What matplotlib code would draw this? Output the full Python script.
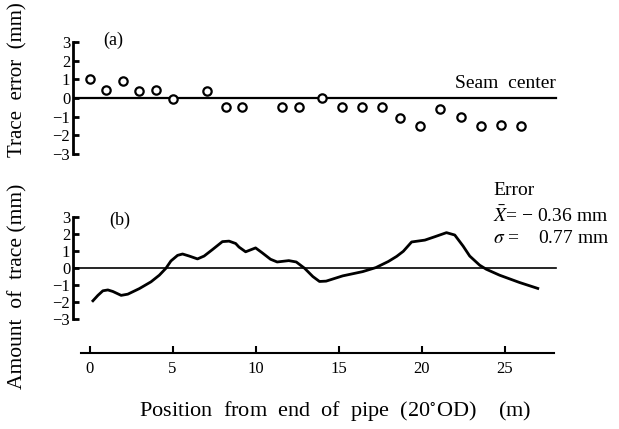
import matplotlib
matplotlib.use('Agg')
import matplotlib.pyplot as plt

plt.rcParams['font.family'] = ['Liberation Serif', 'DejaVu Serif']
plt.rcParams['mathtext.fontset'] = 'stix'
plt.rcParams['axes.unicode_minus'] = True

# (a) trace error points
pos_a = [0, 1.0, 2.0, 3.0, 4.0, 5.0, 7.1, 8.2, 9.2, 11.6, 12.6, 14.0,
         15.2, 16.4, 17.6, 18.7, 19.9, 21.1, 22.4, 23.6, 24.8, 26.0]
err_a = [1.0, 0.45, 0.9, 0.4, 0.45, -0.05, 0.4, -0.5, -0.5, -0.5, -0.5, 0.0,
         -0.5, -0.5, -0.5, -1.05, -1.5, -0.6, -1.0, -1.5, -1.45, -1.5]

# (b) amount of trace curve
pos_b = [0.2, 0.5, 0.8, 1.1, 1.4, 1.9, 2.3, 3.0, 3.7, 4.2, 4.6, 4.9, 5.3, 5.6,
         6.0, 6.5, 6.9, 7.4, 8.0, 8.4, 8.8, 9.0, 9.4, 10.0, 10.4, 10.9, 11.3,
         12.0, 12.45, 12.95, 13.45, 13.85, 14.25, 15.25, 16.45, 17.25, 18.0,
         18.5, 18.9, 19.4, 20.2, 20.8, 21.5, 22.0, 22.5, 22.9, 23.5, 23.9,
         24.7, 25.9, 27.0]
trace_b = [-1.92, -1.6, -1.33, -1.28, -1.37, -1.6, -1.53, -1.2, -0.8, -0.41,
           0.0, 0.43, 0.76, 0.84, 0.72, 0.55, 0.72, 1.1, 1.57, 1.6, 1.46, 1.25,
           0.97, 1.2, 0.91, 0.53, 0.37, 0.45, 0.37, 0.0, -0.49, -0.78, -0.76,
           -0.45, -0.2, 0.04, 0.4, 0.7, 1.0, 1.55, 1.66, 1.86, 2.1, 1.96, 1.31,
           0.72, 0.18, -0.06, -0.41, -0.84, -1.19]

yticks = [-3, -2, -1, 0, 1, 2, 3]
xticks = [0, 5, 10, 15, 20, 25]

fig = plt.figure(figsize=(6.19, 4.29), dpi=100)
W, H = 619, 429
xl = (-1.0, 28.4)

# panel (a)
ax1 = fig.add_axes([73 / W, 1 - 156 / H, 488 / W, 116 / H])
ax1.plot(pos_a, err_a, 'o', mfc='white', mec='black', mew=1.6, ms=6, zorder=3)
ax1.plot([xl[0], 28.1], [0, 0], color='black', lw=1.6)
ax1.set_xlim(xl)
ax1.set_ylim(-3.1, 3.1)
for s in ['top', 'right', 'bottom']:
    ax1.spines[s].set_visible(False)
ax1.spines['left'].set_linewidth(2)
ax1.spines['left'].set_bounds(-3, 3)
ax1.set_xticks([])
ax1.set_yticks(yticks)
ax1.tick_params(axis='y', direction='in', length=4, width=2, labelsize=12, pad=2)
ax1.set_ylabel('Trace  error  (mm)', fontsize=15)
ax1.yaxis.set_label_coords(-0.094, 0.66)
ax1.text(0.8, 3.1, '(a)', fontsize=13, va='center')
ax1.text(28.1, 0.3, 'Seam  center', fontsize=14, ha='right', va='bottom')

# panel (b)
ax2 = fig.add_axes([73 / W, 1 - 353 / H, 488 / W, 139 / H])
ax2.plot(pos_b, trace_b, color='black', lw=2)
ax2.plot([xl[0], 28.1], [0, 0], color='black', lw=1.2)
ax2.set_xlim(xl)
ax2.set_ylim(-5, 3.2)
for s in ['top', 'right']:
    ax2.spines[s].set_visible(False)
ax2.spines['left'].set_linewidth(2)
ax2.spines['left'].set_bounds(-3, 3)
ax2.spines['bottom'].set_linewidth(1.5)
ax2.spines['bottom'].set_bounds(-0.5, 28)
ax2.set_yticks(yticks)
ax2.set_xticks(xticks)
ax2.tick_params(axis='y', direction='in', length=4, width=2, labelsize=12, pad=2)
ax2.tick_params(axis='x', direction='in', length=5, width=1.5, labelsize=12, pad=6)
ax2.set_ylabel('Amount  of  trace (mm)', fontsize=15.5)
ax2.yaxis.set_label_coords(-0.094, 0.48)
ax2.set_xlabel('Position  from  end  of  pipe  (20$^{\\circ}$OD)    (m)', fontsize=16)
ax2.xaxis.set_label_coords(0.537, -0.33)
ax2.text(1.2, 2.8, '(b)', fontsize=13, va='center')
ax2.text(24.3, 4.6, 'Error', fontsize=14, va='center')
ax2.text(24.3, 3.1, '$\\bar{X}$= \u2212 0.36 mm', fontsize=14, va='center')
ax2.text(24.3, 1.76, '$\\sigma$ =    0.77 mm', fontsize=14, va='center')
for t in ax2.texts:
    t.set_clip_on(False)

fig.savefig('out.png', dpi=100)
